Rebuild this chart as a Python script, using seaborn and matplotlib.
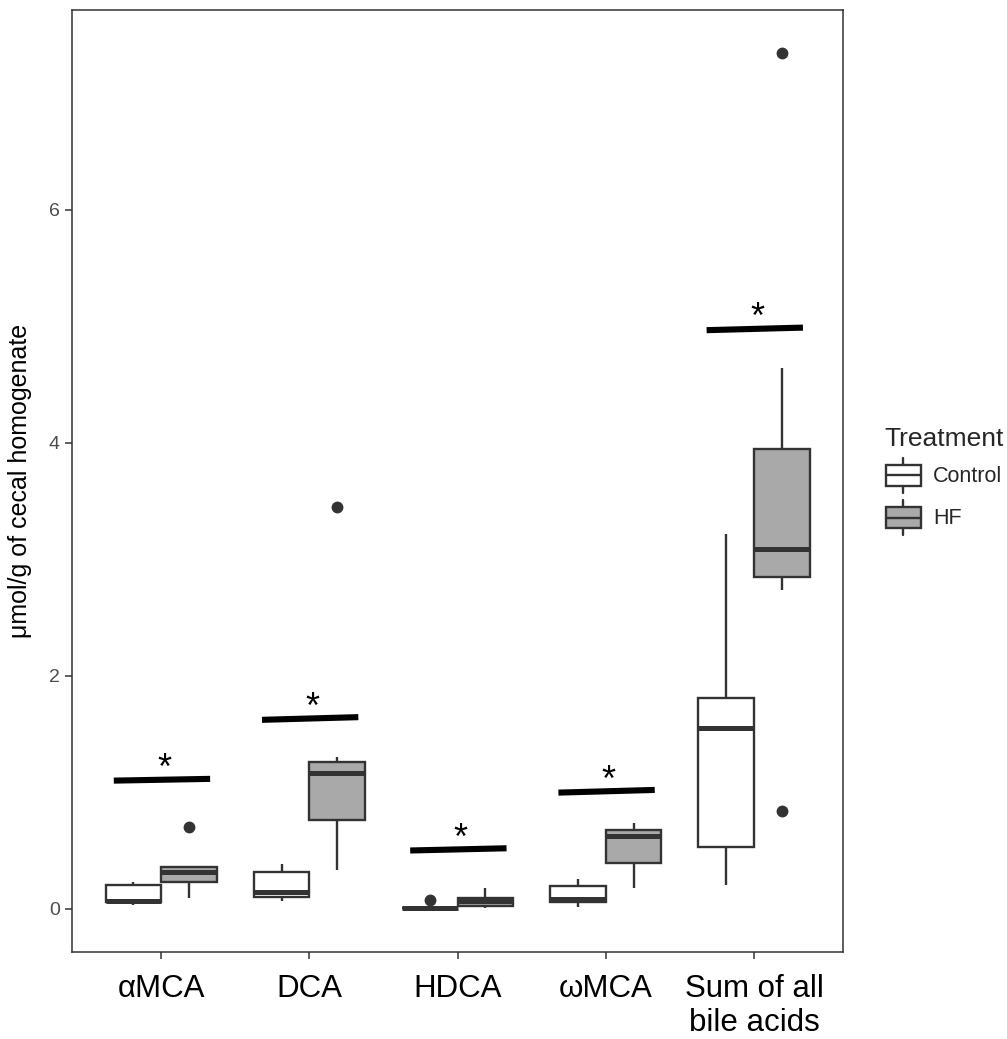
import matplotlib
matplotlib.use("Agg")
import matplotlib.pyplot as plt
import seaborn as sns
import pandas as pd
from matplotlib.patches import Patch, Rectangle
from matplotlib.lines import Line2D
from matplotlib.legend_handler import HandlerBase

# ---------------- data ----------------
categories = ["αMCA", "DCA", "HDCA", "ωMCA", "Sum of all\nbile acids"]
treatments = ["Control", "HF"]

control_whislo = [0.032, 0.069, 0.004, 0.017, 0.204]
control_q1     = [0.055, 0.098, 0.005, 0.060, 0.530]
control_med    = [0.062, 0.146, 0.006, 0.081, 1.554]
control_q3     = [0.204, 0.313, 0.007, 0.195, 1.810]
control_whishi = [0.232, 0.384, 0.008, 0.252, 3.220]
control_out_lo = [[], [], [], [], []]
control_out_hi = [[], [], [0.075], [], []]

hf_whislo = [0.089, 0.332, 0.003, 0.175, 2.740]
hf_q1     = [0.232, 0.762, 0.026, 0.395, 2.850]
hf_med    = [0.313, 1.168, 0.066, 0.627, 3.090]
hf_q3     = [0.358, 1.260, 0.094, 0.676, 3.950]
hf_whishi = [0.358, 1.300, 0.175, 0.733, 4.640]
hf_out_lo = [[], [], [], [], [0.839]]
hf_out_hi = [[0.700], [3.450], [], [], [7.350]]

# significance bars (left end, right end) and stars
sig_left  = [1.100, 1.622, 0.500, 0.997, 4.968]
sig_right = [1.115, 1.645, 0.519, 1.020, 4.990]
sig_label = ["*", "*", "*", "*", "*"]

yticks = [0, 2, 4, 6]

fill_colors = {"Control": "#FFFFFF", "HF": "#A9A9A9"}
line_col = "#333333"


def group_values(lo, wlo, q1, med, q3, whi, hi):
    # 9 sorted observations whose quartiles / whiskers / outliers
    # reproduce the five-number summary shown in the reference
    head = list(lo) + [wlo]
    head = head + [q1] * (3 - len(head))
    tail = [whi] + list(hi)
    tail = tail + [whi] * (2 - len(tail))
    tail = sorted(tail)
    return head + [med, med, q3, q3] + tail


rows = []
for i, cat in enumerate(categories):
    for tr, (wl, a, m, b, wh, lo, hi) in {
        "Control": (control_whislo, control_q1, control_med, control_q3,
                    control_whishi, control_out_lo, control_out_hi),
        "HF": (hf_whislo, hf_q1, hf_med, hf_q3, hf_whishi, hf_out_lo, hf_out_hi),
    }.items():
        for v in group_values(lo[i], wl[i], a[i], m[i], b[i], wh[i], hi[i]):
            rows.append({"Acid": cat, "Treatment": tr, "value": v})
df = pd.DataFrame(rows)

# ---------------- style ----------------
sns.set_theme(style="white")
plt.rcParams["font.family"] = ["Liberation Sans", "DejaVu Sans"]

fig = plt.figure(figsize=(10.07, 10.39), dpi=100)
ax = fig.add_axes([0.0718, 0.0842, 0.8371 - 0.0718, 0.9904 - 0.0842])

sns.boxplot(
    data=df, x="Acid", y="value", hue="Treatment",
    order=categories, hue_order=treatments,
    palette=fill_colors, linecolor=line_col, linewidth=1.7,
    width=0.75, gap=0, whis=1.5, showcaps=False,
    medianprops=dict(linewidth=3.6, color=line_col),
    flierprops=dict(marker="o", markerfacecolor=line_col,
                    markeredgecolor=line_col, markersize=7.5),
    legend=False, ax=ax, saturation=1,
)

for i in range(len(categories)):
    ax.plot([i - 0.32, i + 0.33], [sig_left[i], sig_right[i]],
            color="black", lw=4.4, solid_capstyle="butt", zorder=5)
    ax.text(i + 0.02, (sig_left[i] + sig_right[i]) / 2 + 0.005, sig_label[i],
            ha="center", va="baseline", fontsize=26, color="black")

ax.set_xlim(-0.6, len(categories) - 0.4)
ax.set_ylim(-0.3675, 7.7175)
ax.set_yticks(yticks)
ax.set_yticklabels([str(t) for t in yticks])
ax.set_xlabel("")
ax.set_ylabel("μmol/g of cecal homogenate", fontsize=18, color="black", labelpad=12)

for s in ax.spines.values():
    s.set_visible(True)
    s.set_color(line_col)
    s.set_linewidth(1.1)
ax.tick_params(axis="both", which="major", direction="out", length=5,
               width=1.1, color=line_col, left=True, bottom=True)
ax.tick_params(axis="y", labelsize=14, labelcolor="#4D4D4D", pad=4)
ax.tick_params(axis="x", labelsize=22.5, labelcolor="black", pad=11)
ax.grid(False)
ax.set_facecolor("white")


# ---------------- legend with boxplot glyphs ----------------
class BoxHandler(HandlerBase):
    def create_artists(self, legend, orig_handle, xdescent, ydescent,
                       width, height, fontsize, trans):
        x0, y0 = -xdescent, -ydescent
        xc = x0 + width / 2
        whisk = Line2D([xc, xc], [y0, y0 + height], color=line_col,
                       lw=1.7, transform=trans)
        box = Rectangle((x0 + 0.03 * width, y0 + 0.2 * height),
                        0.94 * width, 0.6 * height,
                        facecolor=orig_handle.get_facecolor(),
                        edgecolor=line_col, lw=1.7, transform=trans)
        med = Line2D([x0 + 0.03 * width, x0 + 0.97 * width],
                     [y0 + 0.5 * height] * 2, color=line_col, lw=1.7,
                     transform=trans)
        return [whisk, box, med]


handles = [Patch(facecolor=fill_colors[t], edgecolor=line_col) for t in treatments]
leg = fig.legend(
    handles, treatments, title="Treatment",
    loc="upper left", bbox_to_anchor=(876 / 1007, 1 - 418 / 1039),
    frameon=False, fontsize=15.5, title_fontsize=19,
    handler_map={Patch: BoxHandler()},
    handlelength=1.75, handleheight=2.1, labelspacing=0.35,
    handletextpad=0.5, borderaxespad=0, alignment="left",
)

fig.savefig("out.png", dpi=100, facecolor="white")
